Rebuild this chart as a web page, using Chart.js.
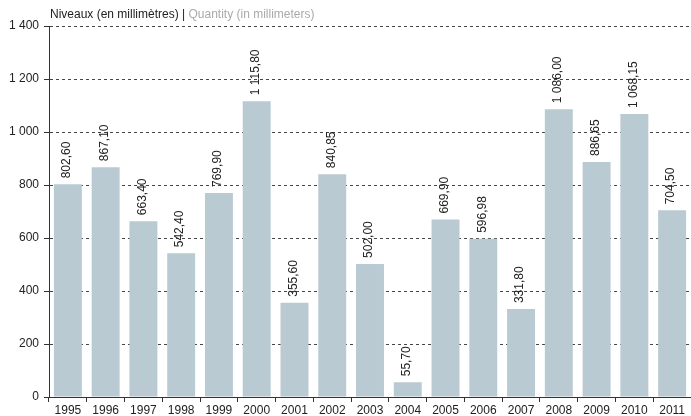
<!DOCTYPE html>
<html>
<head>
<meta charset="utf-8">
<script src="https://cdn.jsdelivr.net/npm/chart.js@4"></script>
<style>
  html, body { margin: 0; padding: 0; background: #fff; }
  #wrap { width: 691px; height: 416px; }
</style>
</head>
<body>
<div id="wrap"><canvas id="chartNiveaux" width="691" height="416"></canvas></div>
<script>
var years = ['1995', '1996', '1997', '1998', '1999', '2000', '2001', '2002', '2003',
    '2004', '2005', '2006', '2007', '2008', '2009', '2010', '2011'];
var niveaux = [802.60, 867.10, 663.40, 542.40, 769.90, 1115.80, 355.60, 840.85, 502.00,
    55.70, 669.90, 596.98, 331.80, 1086.00, 886.65, 1068.15, 704.50];
var yTicks = [0, 200, 400, 600, 800, 1000, 1200, 1400];
var titleFr = 'Niveaux (en millimètres) | ';
var titleEn = 'Quantity (in millimeters)';

var FONT = '"Liberation Sans", Arial, Helvetica, sans-serif';

// "1 115,80" style numbers
function fmt(v, dec) {
    var s = v.toFixed(dec);
    var parts = s.split('.');
    var ent = parts[0].replace(/\B(?=(\d{3})+(?!\d))/g, ' ');
    return parts.length > 1 ? ent + ',' + parts[1] : ent;
}

var labelsPlugin = {
    id: 'barLabels',
    afterDatasetsDraw: function (chart) {
        var ctx = chart.ctx;
        var meta = chart.getDatasetMeta(0);
        ctx.save();
        ctx.font = '12px ' + FONT;
        ctx.fillStyle = '#222';
        ctx.textAlign = 'left';
        ctx.textBaseline = 'middle';
        meta.data.forEach(function (bar, i) {
            ctx.save();
            ctx.translate(bar.x - 1, bar.y - 6);
            ctx.rotate(-Math.PI / 2);
            ctx.fillText(fmt(niveaux[i], 2), 0, 0);
            ctx.restore();
        });
        ctx.restore();
    }
};

var titlePlugin = {
    id: 'twoTone',
    afterDraw: function (chart) {
        var ctx = chart.ctx;
        ctx.save();
        ctx.font = '12px ' + FONT;
        ctx.textBaseline = 'alphabetic';
        ctx.textAlign = 'left';
        ctx.fillStyle = '#222';
        ctx.fillText(titleFr, 50, 18);
        var w = ctx.measureText(titleFr).width;
        ctx.fillStyle = '#aaa';
        ctx.fillText(titleEn, 50 + w, 18);
        ctx.restore();
    }
};

var ctx = document.getElementById('chartNiveaux').getContext('2d');
var myChart = new Chart(ctx, {
    type: 'bar',
    data: {
        labels: years,
        datasets: [{
            data: niveaux,
            backgroundColor: '#b9cad2',
            borderWidth: 0,
            categoryPercentage: 1,
            barPercentage: 0.74
        }]
    },
    options: {
        responsive: false,
        animation: false,
        events: [],
        layout: { padding: { top: 26, right: 0, left: 0, bottom: 0 } },
        plugins: {
            legend: { display: false },
            tooltip: { enabled: false }
        },
        scales: {
            x: {
                offset: true,
                grid: {
                    offset: true,
                    drawOnChartArea: false,
                    drawTicks: true,
                    tickLength: 5,
                    tickColor: '#333',
                    tickWidth: 1
                },
                border: { display: true, color: '#333', width: 1 },
                ticks: {
                    color: '#222',
                    font: { family: FONT, size: 12 },
                    padding: 1,
                    maxRotation: 0,
                    autoSkip: false
                },
                afterFit: function (scale) { scale.height = 19; }
            },
            y: {
                min: 0,
                max: 1400,
                afterBuildTicks: function (scale) {
                    scale.ticks = yTicks.map(function (v) { return { value: v }; });
                },
                grid: {
                    color: '#444',
                    lineWidth: 1,
                    drawTicks: true,
                    tickLength: 5,
                    tickColor: '#333',
                    tickBorderDash: []
                },
                border: { display: true, color: '#333', width: 1, dash: [3, 3] },
                ticks: {
                    color: '#222',
                    font: { family: FONT, size: 12 },
                    padding: 5,
                    callback: function (v) { return fmt(v, 0); }
                },
                afterFit: function (scale) { scale.width = 49; }
            }
        }
    },
    plugins: [labelsPlugin, titlePlugin]
});
</script>
</body>
</html>
